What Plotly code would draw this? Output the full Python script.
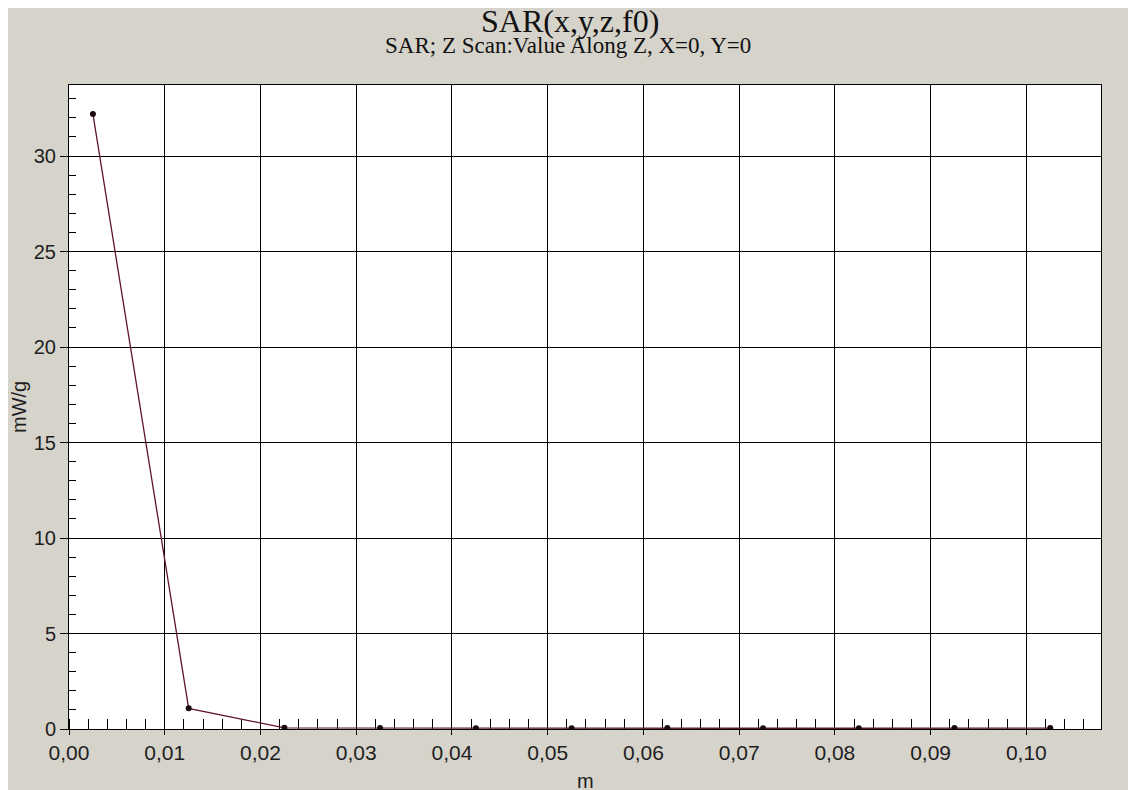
import plotly.graph_objects as go

# Data
z_m = [0.0025, 0.0125, 0.0225, 0.0325, 0.0425, 0.0525, 0.0625, 0.0725, 0.0825, 0.0925, 0.1025]
sar_mw_g = [32.2, 1.08, 0.06, 0.05, 0.04, 0.04, 0.05, 0.04, 0.04, 0.05, 0.05]

title_text = "SAR(x,y,z,f0)"
subtitle_text = "SAR; Z Scan:Value Along Z, X=0, Y=0"
x_title = "m"
y_title = "mW/g"

# the page body adds an 8px white margin at top/left
OFF = 8
W, H = 1136, 790
ML, MT = 69 - OFF, 85 - OFF
PW, PH = 1032, 644
MR = W - ML - PW
MB = H - MT - PH

GRAY = "#d6d3cb"

fig = go.Figure()
fig.add_trace(go.Scatter(
    x=z_m, y=sar_mw_g, mode="lines+markers",
    line=dict(color="#5e1628", width=1.3),
    marker=dict(color="#1a0a10", size=6),
    showlegend=False, hoverinfo="x+y",
))

xfont = dict(family="Liberation Sans, Arial, sans-serif", size=21, color="#1e1e1e")
yfont = dict(family="Liberation Sans, Arial, sans-serif", size=20, color="#1e1e1e")

fig.update_xaxes(
    range=[0, 0.1078], dtick=0.01, tick0=0, tickformat=".2f",
    showgrid=True, gridcolor="black", gridwidth=1,
    showline=True, linecolor="black", linewidth=1, mirror=True,
    ticks="outside", ticklen=5, tickcolor="black",
    minor=dict(dtick=0.002, tick0=0, ticks="inside", ticklen=10, tickcolor="black", showgrid=False),
    zeroline=False, tickfont=xfont, layer="below traces",
)
fig.update_yaxes(
    range=[0, 33.72], dtick=5, tick0=0,
    showgrid=True, gridcolor="black", gridwidth=1,
    showline=True, linecolor="black", linewidth=1, mirror=True,
    ticks="outside", ticklen=8, tickcolor="black",
    minor=dict(dtick=1, tick0=0, ticks="inside", ticklen=7, tickcolor="black", showgrid=False),
    zeroline=False, tickfont=yfont, layer="below traces",
)

# helpers: convert screenshot pixel positions to paper coordinates
def px_x(px):
    return (px - OFF - ML) / PW

def px_y(py):
    return (MT + PH - (py - OFF)) / PH

annotations = [
    dict(text=title_text, x=px_x(570), y=px_y(21), xref="paper", yref="paper",
         xanchor="center", yanchor="middle", showarrow=False,
         font=dict(family="Liberation Serif, Times New Roman, serif", size=32, color="#111")),
    dict(text=subtitle_text, x=px_x(568), y=px_y(45), xref="paper", yref="paper",
         xanchor="center", yanchor="middle", showarrow=False,
         font=dict(family="Liberation Serif, Times New Roman, serif", size=23, color="#111")),
    dict(text=y_title, x=px_x(19), y=0.5, xref="paper", yref="paper",
         xanchor="center", yanchor="middle", showarrow=False, textangle=-90,
         font=dict(family="Liberation Sans, Arial, sans-serif", size=20, color="#1e1e1e")),
    dict(text=x_title, x=0.5, y=px_y(781), xref="paper", yref="paper",
         xanchor="center", yanchor="middle", showarrow=False,
         font=dict(family="Liberation Sans, Arial, sans-serif", size=20, color="#1e1e1e")),
]

fig.update_layout(
    width=W, height=H, autosize=False,
    margin=dict(l=ML, r=MR, t=MT, b=MB, pad=0),
    paper_bgcolor=GRAY, plot_bgcolor="white",
    separators=",.",
    annotations=annotations,
    showlegend=False,
)

fig.write_html("out.html", config={"displayModeBar": False})
